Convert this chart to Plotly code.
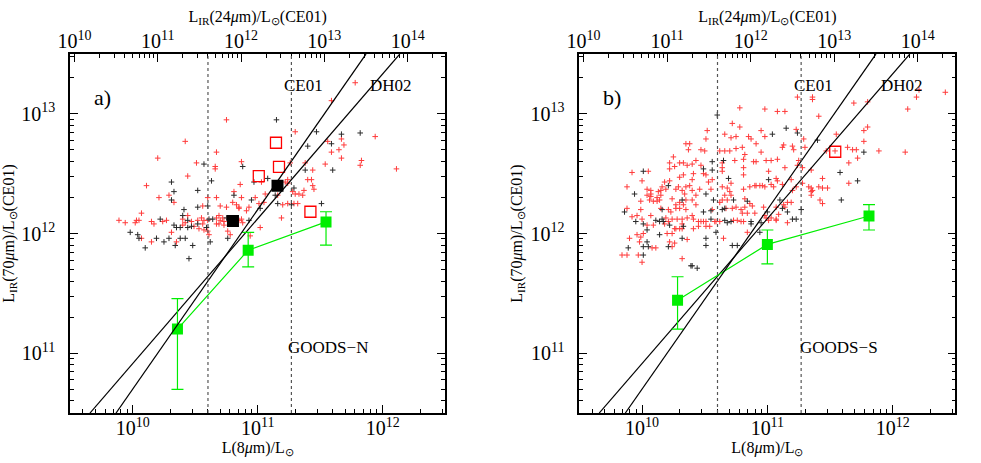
import plotly.graph_objects as go
import numpy as np

# ---- GOODS-N (panel a): upper-limit sources, log10 values ----
A_RED_LOG8 = [10.42, 10.67, 10.20, 10.51, 10.66, 10.66, 10.87, 10.44, 10.11, 11.03, 10.86, 10.29, 10.21, 10.33,
              10.81, 10.80, 10.87, 10.98, 10.67, 10.60, 10.56, 10.70, 10.75, 10.83, 10.85, 10.85, 10.93, 10.91,
              11.01, 11.05, 10.07, 10.44, 10.40, 10.42, 10.47, 10.52, 10.57, 10.60, 10.55, 10.67, 10.69, 10.72,
              10.70, 10.73, 10.78, 10.85, 10.87, 10.88, 9.89, 9.94, 10.03, 10.05, 10.02, 10.15, 10.17, 10.24,
              10.27, 10.40, 10.49, 10.56, 10.53, 10.57, 10.60, 10.61, 10.67, 10.69, 10.73, 10.76, 10.78, 10.94,
              11.02, 10.07, 10.15, 10.31, 10.35,
              11.78, 11.59, 10.75, 11.30, 11.94, 11.56, 11.67, 11.69, 11.65, 11.59, 11.67, 11.83, 11.82, 12.11,
              11.54, 11.38, 11.44, 11.26, 11.24, 11.22, 11.24, 11.28, 11.30, 11.33, 11.37, 11.36, 11.40, 11.43,
              11.44, 11.45, 11.32, 11.29, 11.24, 11.20, 11.16, 11.06, 11.19]
A_RED_LOGIR = [12.77, 12.68, 12.63, 12.59, 12.56, 12.54, 12.60, 12.48, 12.40, 12.43, 12.41, 12.32, 12.30, 12.26,
               12.35, 12.26, 12.30, 12.30, 12.30, 12.30, 12.23, 12.23, 12.22, 12.24, 12.22, 12.21, 12.22, 12.19,
               12.25, 12.26, 12.17, 12.15, 12.12, 12.09, 12.10, 12.11, 12.11, 12.11, 12.13, 12.13, 12.15, 12.13,
               12.11, 12.10, 12.10, 12.11, 12.12, 12.09, 12.11, 12.09, 12.11, 12.11, 12.09, 12.10, 12.08, 12.10,
               12.11, 12.07, 12.06, 12.08, 12.04, 12.03, 12.02, 11.99, 12.08, 12.08, 12.07, 12.02, 11.99, 11.98,
               12.05, 11.96, 11.93, 12.01, 11.93,
               13.26, 13.11, 12.95, 12.85, 12.81, 12.77, 12.79, 12.74, 12.70, 12.68, 12.63, 12.61, 12.57, 12.54,
               12.58, 12.59, 12.53, 12.59, 12.45, 12.43, 12.42, 12.35, 12.33, 12.33, 12.36, 12.32, 12.45, 12.45,
               12.40, 12.37, 12.25, 12.25, 12.25, 12.24, 12.32, 12.33, 12.13]
A_BLK_LOG8 = [10.57, 10.88, 10.63, 10.31, 10.97, 10.52, 10.33, 10.31, 10.81, 10.95, 10.60, 10.52, 10.41, 11.02,
              10.40, 10.44, 10.61, 10.64, 10.75, 10.93, 10.22, 10.33, 10.35, 10.38, 10.44, 10.47, 10.52, 10.59,
              10.76, 9.98, 10.04, 10.05, 10.19, 10.10, 10.25, 10.29, 10.34, 10.38, 10.42, 10.48, 10.62, 10.45,
              11.15, 11.47, 11.67, 11.82, 11.40, 11.59, 11.60, 11.38, 11.29, 11.27, 11.16, 11.14, 11.08, 11.51]
A_BLK_LOGIR = [12.58, 12.56, 12.44, 12.43, 12.43, 12.36, 12.35, 12.28, 12.32, 12.28, 12.23, 12.22, 12.20, 12.21,
               12.15, 12.11, 12.12, 12.12, 12.13, 12.11, 12.12, 12.07, 12.05, 12.05, 12.05, 12.06, 12.08, 12.05,
               11.96, 12.01, 11.99, 11.96, 11.96, 11.88, 11.93, 11.96, 11.90, 11.96, 11.96, 11.90, 11.93, 11.79,
               12.95, 12.85, 12.83, 12.84, 12.73, 12.75, 12.53, 12.53, 12.38, 12.24, 12.25, 12.32, 12.46, 12.25]

# detected sources (squares)
A_DET_L8 = [6.34e10, 1.44e11]
A_DET_LIR = [1.27e12, 2.51e12]
A_OPEN_L8 = [1.40e11, 1.48e11, 1.02e11, 2.64e11]
A_OPEN_LIR = [5.73e12, 3.61e12, 3.02e12, 1.52e12]

# stacked averages (green)
A_STACK_L8 = [2.28e10, 8.39e10, 3.52e11]
A_STACK_LIR = [1.59e11, 7.26e11, 1.25e12]
A_STACK_HI = [2.86e11, 1.02e12, 1.52e12]
A_STACK_LO = [4.98e10, 5.27e11, 8.00e11]

# ---- GOODS-S (panel b) ----
B_RED_LOG8 = [10.72, 10.78, 10.52, 10.66, 10.75, 10.71, 10.51, 10.35, 10.38, 10.37, 10.47, 10.50, 10.62, 10.66,
              10.70, 10.75, 10.80, 10.82, 10.81, 10.25, 10.74, 10.22, 10.30, 10.33, 10.43, 10.26, 10.22, 10.36,
              10.40, 10.47, 10.64, 10.64, 10.64, 9.92, 10.05, 10.33, 10.30, 10.41, 10.40, 10.49, 10.56, 10.51,
              10.81, 10.81, 10.00, 9.88, 10.04, 10.07, 10.07, 10.04, 10.07, 10.15, 10.13, 10.15, 10.18, 10.22,
              10.19, 10.16, 10.12, 10.27, 10.29, 10.32, 10.35, 10.38, 10.34, 10.40, 10.46, 10.53, 10.43, 10.55,
              10.64, 10.68, 10.70, 10.71, 10.81, 10.66, 10.71, 9.99, 10.09, 10.12, 10.14, 10.06, 10.24, 10.30,
              10.27, 10.35, 10.27, 10.30, 10.33, 10.40, 10.43, 10.62, 10.64, 10.68, 10.75, 10.72, 10.67, 10.82,
              10.82, 9.88, 9.99, 10.15, 10.21, 10.23, 10.35, 10.56, 10.79, 10.80, 9.92, 9.96, 10.07, 10.00,
              10.19, 10.24, 10.28, 10.32, 10.36, 10.40, 10.41, 10.04, 10.09, 10.18, 10.21, 10.32, 10.45, 10.47,
              10.49, 10.51, 10.58, 10.59, 10.62, 10.73, 10.76, 10.79, 10.81, 10.27, 10.30, 10.32, 10.26, 10.20,
              10.24, 10.41, 10.45, 10.51, 10.54, 10.65, 9.90, 9.96, 9.99, 10.01, 9.98, 10.08, 10.11, 10.24,
              10.26, 10.22, 10.36, 9.84, 9.88, 9.97, 10.00, 10.32,
              11.24, 11.36, 11.36, 10.98, 11.08, 11.14, 11.41, 11.23, 10.95, 10.85, 10.87, 10.98, 11.29, 11.55,
              10.91, 11.13, 11.12, 11.20, 11.21, 11.30, 11.47, 11.54, 11.64, 10.95, 10.89, 10.91, 10.99, 11.03,
              11.08, 11.01, 11.14, 11.24, 11.25, 11.28, 11.35, 11.44, 11.07, 11.08, 11.19, 11.03, 10.94, 10.96,
              10.91, 10.90, 10.98, 10.86, 11.05, 11.12, 11.23, 11.28, 11.33, 11.35, 11.36, 11.35, 11.41, 11.44,
              11.48, 11.20, 11.35, 11.42, 11.44, 10.86, 10.88, 10.97, 11.07, 11.13, 11.16, 11.19, 11.14, 10.84,
              10.90, 10.98, 10.99, 11.01, 11.03, 11.07, 11.09, 11.16, 10.84, 11.07,
              11.69, 11.80, 11.77, 11.80, 11.77, 11.68, 11.71, 11.89, 12.10, 11.72, 11.65, 11.65, 12.12, 12.19,
              12.21, 12.42, 10.78]
B_RED_LOGIR = [12.92, 12.89, 12.86, 12.83, 12.81, 12.80, 12.79, 12.75, 12.75, 12.70, 12.70, 12.69, 12.69, 12.69,
               12.69, 12.71, 12.72, 12.66, 12.62, 12.64, 12.61, 12.59, 12.59, 12.59, 12.61, 12.56, 12.54, 12.57,
               12.58, 12.57, 12.59, 12.55, 12.52, 12.51, 12.52, 12.49, 12.47, 12.50, 12.45, 12.50, 12.45, 12.49,
               12.55, 12.49, 12.44, 12.39, 12.37, 12.36, 12.33, 12.32, 12.31, 12.36, 12.35, 12.32, 12.43, 12.44,
               12.37, 12.39, 12.30, 12.37, 12.39, 12.36, 12.39, 12.40, 12.33, 12.36, 12.37, 12.43, 12.32, 12.37,
               12.39, 12.38, 12.35, 12.42, 12.37, 12.32, 12.32, 12.27, 12.27, 12.27, 12.28, 12.28, 12.29, 12.26,
               12.24, 12.28, 12.21, 12.21, 12.24, 12.28, 12.24, 12.26, 12.28, 12.28, 12.22, 12.21, 12.21, 12.29,
               12.22, 12.21, 12.20, 12.21, 12.20, 12.18, 12.20, 12.20, 12.20, 12.17, 12.14, 12.15, 12.15, 12.12,
               12.13, 12.12, 12.12, 12.12, 12.13, 12.15, 12.12, 12.07, 12.07, 12.08, 12.10, 12.08, 12.10, 12.10,
               12.10, 12.10, 12.10, 12.10, 12.10, 12.11, 12.11, 12.10, 12.10, 12.04, 12.04, 12.04, 12.04, 12.00,
               12.00, 12.04, 12.06, 12.06, 12.06, 11.96, 11.96, 11.99, 11.97, 12.00, 11.93, 11.88, 11.88, 11.89,
               11.92, 11.93, 11.95, 11.82, 11.82, 11.82, 11.76, 11.79,
               13.14, 13.14, 13.12, 13.04, 13.02, 13.02, 12.98, 12.87, 12.86, 12.81, 12.79, 12.81, 12.79, 12.83,
               12.75, 12.74, 12.72, 12.73, 12.70, 12.72, 12.69, 12.69, 12.72, 12.68, 12.60, 12.60, 12.61, 12.61,
               12.62, 12.52, 12.55, 12.57, 12.61, 12.55, 12.53, 12.46, 12.46, 12.44, 12.45, 12.41, 12.40, 12.40,
               12.40, 12.40, 12.39, 12.39, 12.39, 12.41, 12.39, 12.42, 12.39, 12.38, 12.36, 12.35, 12.39, 12.38,
               12.38, 12.36, 12.32, 12.28, 12.25, 12.25, 12.23, 12.22, 12.22, 12.24, 12.26, 12.26, 12.22, 12.17,
               12.17, 12.15, 12.13, 12.11, 12.13, 12.12, 12.16, 12.09, 12.01, 12.11,
               13.09, 13.10, 12.86, 12.89, 12.77, 12.70, 12.70, 12.69, 12.68, 12.63, 12.59, 12.42, 13.04, 13.14,
               13.20, 13.18, 13.05]
B_BLK_LOG8 = [10.56, 10.65, 10.49, 10.56, 10.01, 10.69, 9.94, 10.21, 10.51, 10.32, 10.57, 10.73, 10.64, 10.66,
              9.86, 10.16, 10.49, 10.55, 10.11, 10.16, 9.95, 10.01, 10.14, 10.17, 10.22, 10.33, 10.55, 10.66,
              10.68, 10.71, 10.04, 10.14, 10.59, 10.04, 10.05, 10.01, 9.89, 10.21, 10.32, 10.51, 10.51, 10.01,
              10.39, 10.40, 10.44, 10.72, 10.76,
              11.15, 11.24, 11.04, 11.40, 11.58, 11.01, 11.59, 10.84, 11.12, 11.10, 11.27, 11.00, 11.16, 11.20,
              11.23, 10.87, 10.87, 10.95, 10.94, 11.77, 11.72, 10.60]
B_BLK_LOGIR = [12.60, 12.61, 12.54, 12.53, 12.52, 12.46, 12.33, 12.40, 12.33, 12.28, 12.28, 12.28, 12.20, 12.21,
               12.18, 12.20, 12.18, 12.19, 12.11, 12.12, 12.10, 12.08, 12.10, 12.10, 12.07, 12.06, 12.12, 12.11,
               12.09, 12.10, 12.03, 11.99, 12.01, 11.93, 11.89, 11.89, 11.88, 11.89, 11.96, 11.96, 11.90, 11.82,
               11.73, 11.73, 11.71, 11.90, 11.90,
               12.88, 12.84, 12.83, 12.78, 12.51, 12.45, 12.28, 12.27, 12.21, 12.28, 12.20, 12.18, 12.18, 12.12,
               12.12, 12.10, 12.08, 12.09, 12.01, 12.68, 12.44, 12.99]

B_OPEN_L8 = [3.48e11]
B_OPEN_LIR = [4.82e12]

B_STACK_L8 = [1.92e10, 1.00e11, 6.47e11]
B_STACK_LIR = [2.77e11, 8.11e11, 1.40e12]
B_STACK_HI = [4.35e11, 1.07e12, 1.74e12]
B_STACK_LO = [1.59e11, 5.58e11, 1.07e12]

# model relations
CE01_LIR24 = [3.16e10, 3.16e13]   # on the top axis this is the 1:1 line
CE01_LIR70 = [3.16e10, 3.16e13]
DH02_L8 = [4.55e9, 1.37e12]
DH02_LIR = [3.16e10, 3.16e13]
LIRG_CUTS_L8 = [4.0e10, 1.86e11]  # dotted lines

RANGE_L8 = [9.5, 12.5]
RANGE_LIR24 = [9.95, 14.45]
RANGE_LIR70 = [10.5, 13.5]

FONT = 'Liberation Serif'
RED = '#ff3b3b'
GREEN = '#00ee00'

fig = go.Figure()


def add_panel(fig, xa, xtop, ya, red, blk, det, opn, stack, label, field):
    xref, xtref, yref = xa.replace('axis', ''), xtop.replace('axis', ''), ya.replace('axis', '')
    # upper limits at 70um
    fig.add_trace(go.Scatter(x=10 ** np.array(red[0]), y=10 ** np.array(red[1]), mode='markers',
                             marker=dict(symbol='cross-thin-open', size=4, color=RED,
                                         line=dict(color=RED, width=1)),
                             xaxis=xref, yaxis=yref))
    fig.add_trace(go.Scatter(x=10 ** np.array(blk[0]), y=10 ** np.array(blk[1]), mode='markers',
                             marker=dict(symbol='cross-thin-open', size=4, color='#2a2a2a',
                                         line=dict(color='#2a2a2a', width=1)),
                             xaxis=xref, yaxis=yref))
    if det is not None:
        fig.add_trace(go.Scatter(x=det[0], y=det[1], mode='markers',
                                 marker=dict(symbol='square', size=12, color='black'),
                                 xaxis=xref, yaxis=yref))
    fig.add_trace(go.Scatter(x=opn[0], y=opn[1], mode='markers',
                             marker=dict(symbol='square-open', size=11, color='red', line=dict(width=1.3)),
                             xaxis=xref, yaxis=yref))
    fig.add_trace(go.Scatter(x=DH02_L8, y=DH02_LIR, mode='lines', line=dict(color='black', width=1.2),
                             xaxis=xref, yaxis=yref))
    fig.add_trace(go.Scatter(x=CE01_LIR24, y=CE01_LIR70, mode='lines', line=dict(color='black', width=1.2),
                             xaxis=xtref, yaxis=yref))
    sx, sy, hi, lo = stack
    fig.add_trace(go.Scatter(
        x=sx, y=sy, mode='lines+markers',
        line=dict(color=GREEN, width=1.2),
        marker=dict(symbol='square', size=11, color=GREEN),
        error_y=dict(type='data', symmetric=False,
                     array=[h - v for h, v in zip(hi, sy)],
                     arrayminus=[v - l for v, l in zip(sy, lo)],
                     color=GREEN, thickness=1.2, width=6),
        xaxis=xref, yaxis=yref))

    for cut in LIRG_CUTS_L8:
        fig.add_shape(type='line', xref=xref, yref=yref + ' domain', x0=cut, x1=cut, y0=0, y1=1,
                      line=dict(color='#555555', width=1.2, dash='dot'))

    txt = dict(family=FONT, size=17, color='black')
    fig.add_annotation(text=label, x=0.058, y=0.918, xref=xref + ' domain', yref=yref + ' domain',
                       showarrow=False, font=dict(family=FONT, size=22, color='black'))
    fig.add_annotation(text='CE01', x=0.68, y=0.944, xref=xref + ' domain', yref=yref + ' domain',
                       showarrow=False, font=txt)
    fig.add_annotation(text='DH02', x=0.918, y=0.944, xref=xref + ' domain', yref=yref + ' domain',
                       showarrow=False, font=txt)
    fig.add_annotation(text=field, x=0.80, y=0.15, xref=xref + ' domain', yref=yref + ' domain',
                       showarrow=False, font=txt)


add_panel(fig, 'xaxis', 'xaxis2', 'yaxis',
          (A_RED_LOG8, A_RED_LOGIR), (A_BLK_LOG8, A_BLK_LOGIR), (A_DET_L8, A_DET_LIR),
          (A_OPEN_L8, A_OPEN_LIR), (A_STACK_L8, A_STACK_LIR, A_STACK_HI, A_STACK_LO), 'a)', 'GOODS−N')
add_panel(fig, 'xaxis3', 'xaxis4', 'yaxis2',
          (B_RED_LOG8, B_RED_LOGIR), (B_BLK_LOG8, B_BLK_LOGIR), None,
          (B_OPEN_L8, B_OPEN_LIR), (B_STACK_L8, B_STACK_LIR, B_STACK_HI, B_STACK_LO), 'b)', 'GOODS−S')

tickfont = dict(family=FONT, size=16, color='black')
titlefont = dict(family=FONT, size=16, color='black')
common = dict(type='log', dtick=1, exponentformat='power', showgrid=False, zeroline=False,
              showline=True, linecolor='black', linewidth=1.6, ticks='inside', ticklen=8,
              tickcolor='black', tickwidth=1.2, tickfont=tickfont,
              minor=dict(ticks='inside', ticklen=4, tickcolor='black', tickwidth=1, showgrid=False))

dom_a = [58 / 981, 438 / 981]
dom_b = [574 / 981, 955 / 981]
dom_y = [50 / 463, 409 / 463]

xt8 = 'L(8<i>μ</i>m)/L<sub>⊙</sub>'
xt24 = 'L<sub>IR</sub>(24<i>μ</i>m)/L<sub>⊙</sub>(CE01)'
yt70 = 'L<sub>IR</sub>(70<i>μ</i>m)/L<sub>⊙</sub>(CE01)'

bottom = dict(ticklabelstandoff=-3, title=dict(text=xt8, font=titlefont, standoff=2))
top = dict(side='top', ticklabelstandoff=-3, title=dict(text=xt24, font=titlefont, standoff=1))
left = dict(mirror='ticks', ticklabelstandoff=10, title=dict(text=yt70, font=titlefont, standoff=4))

fig.update_layout(
    width=981, height=463, autosize=False,
    margin=dict(l=0, r=0, t=0, b=0),
    paper_bgcolor='white', plot_bgcolor='white',
    showlegend=False,
    xaxis=dict(common, **bottom, domain=dom_a, anchor='y', range=RANGE_L8),
    xaxis2=dict(common, **top, overlaying='x', anchor='y', range=RANGE_LIR24),
    yaxis=dict(common, **left, domain=dom_y, anchor='x', range=RANGE_LIR70),
    xaxis3=dict(common, **bottom, domain=dom_b, anchor='y2', range=RANGE_L8),
    xaxis4=dict(common, **top, overlaying='x3', anchor='y2', range=RANGE_LIR24),
    yaxis2=dict(common, **left, domain=dom_y, anchor='x3', range=RANGE_LIR70),
)

fig.write_html('out.html', config={'displayModeBar': False},
               post_script="document.body.style.margin='0px';")
